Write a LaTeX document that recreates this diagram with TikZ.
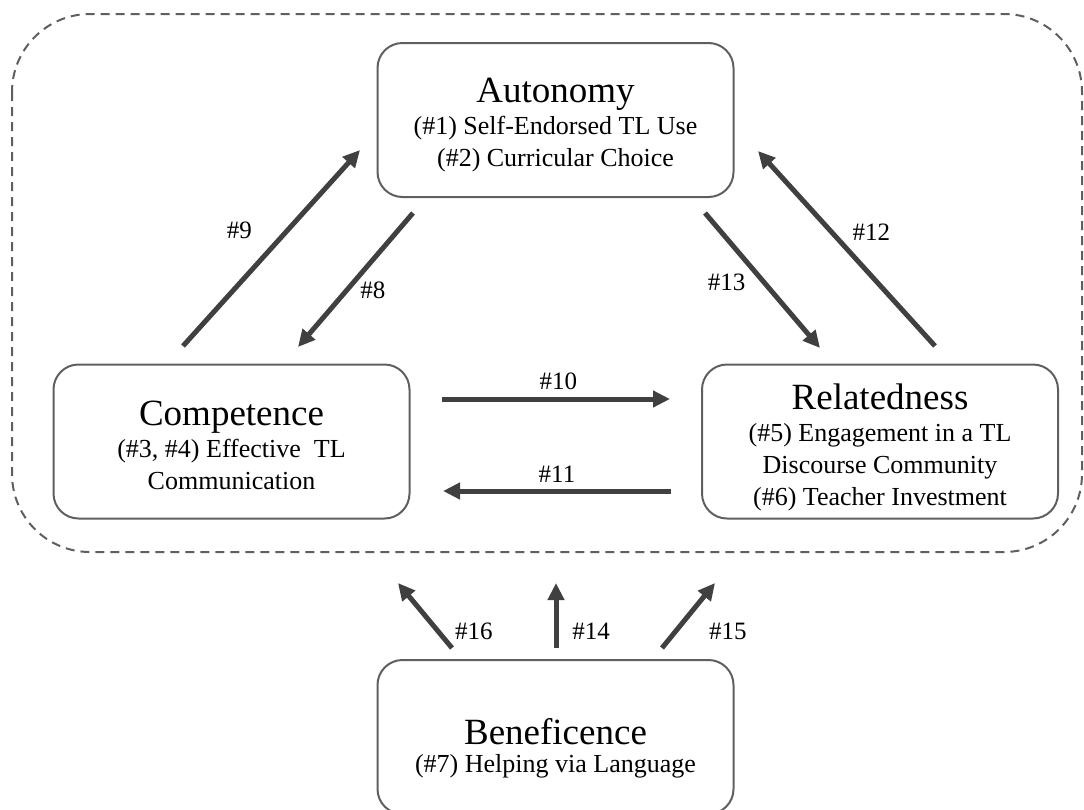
\documentclass[tikz,border=0pt]{standalone}
\usepackage{fontspec}
\setmainfont{Liberation Serif}
\usetikzlibrary{arrows.meta}
\definecolor{linkgray}{HTML}{404040}
\definecolor{boxgray}{HTML}{5F5F5F}
\newcommand{\headfont}{\fontsize{37}{40}\selectfont}
\newcommand{\bodyfont}{\fontsize{26}{32}\selectfont}
\newcommand{\tagfont}{\fontsize{25}{30}\selectfont}
% title line, with a strut that sets how far the text block sits down in its box
\newcommand{\headline}[2]{{\headfont\rule{0pt}{#1}#2}}

\begin{document}
\begin{tikzpicture}[x=1pt, y=-1pt,
  main/.style = {draw=boxgray, line width=2pt, rounded corners=25pt, minimum width=356pt, minimum height=154pt, align=center, font=\bodyfont, inner sep=0pt},
  link/.style = {draw=linkgray, line width=5pt, -{Triangle[length=17pt, width=16pt]}},
  tag/.style = {font=\tagfont, inner sep=0pt}]
\useasboundingbox (0,0) rectangle (1084,809);
\draw[boxgray, line width=2pt, dash pattern=on 9pt off 6pt, rounded corners=78pt] (12,14) rectangle (1082,552);

\node[main] (aut) at (555.5,120) {\headline{34pt}{Autonomy}\\(\#1) Self-Endorsed TL Use\\(\#2) Curricular Choice};
\node[main] (com) at (231.5,441.5) {\headline{33pt}{Competence}\\(\#3, \#4) Effective\ \ TL\\Communication};
\node[main] (rel) at (880,441.5) {\headline{37pt}{Relatedness}\\(\#5) Engagement in a TL\\Discourse Community\\(\#6) Teacher Investment};
\node[main] (ben) at (555.5,737) {\headline{49pt}{Beneficence}\\[-4pt](\#7) Helping via Language};

% arrow ends
\coordinate (s8) at (413,213);  \coordinate (e8) at (298,347);
\coordinate (s9) at (183,346);  \coordinate (e9) at (360,150);
\coordinate (s10) at (442,399); \coordinate (e10) at (670,399);
\coordinate (s11) at (671,491); \coordinate (e11) at (443,491);
\coordinate (s12) at (935,346); \coordinate (e12) at (758,151);
\coordinate (s13) at (705,213); \coordinate (e13) at (820,348);
\coordinate (s14) at (556,648); \coordinate (e14) at (556,583);
\coordinate (s15) at (662,648); \coordinate (e15) at (715,583);
\coordinate (s16) at (452,648); \coordinate (e16) at (398,583);

\draw[link] (s8) -- node[tag, pos=0.575, xshift=26pt] (t8) {\#8} (e8);
\draw[link] (s9) -- node[tag, pos=0.59, xshift=-48pt] (t9) {\#9} (e9);
\draw[link] (s10) -- node[tag, pos=0.51, yshift=18pt] (t10) {\#10} (e10);
\draw[link] (s11) -- node[tag, pos=0.5, yshift=17pt] (t11) {\#11} (e11);
\draw[link] (s12) -- node[tag, pos=0.585, xshift=40pt] (t12) {\#12} (e12);
\draw[link] (s13) -- node[tag, pos=0.51, xshift=-37pt] (t13) {\#13} (e13);
\draw[link] (s14) -- node[tag, pos=0.26, xshift=35pt] (t14) {\#14} (e14);
\draw[link] (s15) -- node[tag, pos=0.26, xshift=52pt] (t15) {\#15} (e15);
\draw[link] (s16) -- node[tag, pos=0.26, xshift=36pt] (t16) {\#16} (e16);
\end{tikzpicture}
\end{document}
